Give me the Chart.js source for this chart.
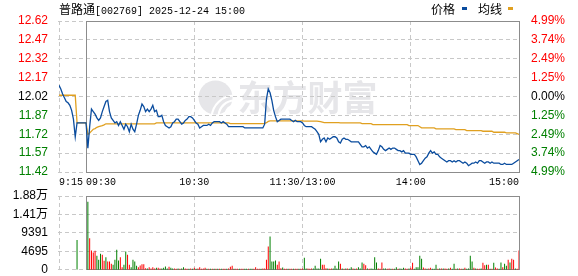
<!DOCTYPE html>
<html><head><meta charset="utf-8">
<script src="https://cdn.jsdelivr.net/npm/chart.js@4.4.1/dist/chart.umd.min.js"></script>
<style>
html,body{margin:0;padding:0;background:#fff;width:578px;height:276px;overflow:hidden;}
#wrap{position:relative;width:578px;height:276px;}
canvas{position:absolute;left:0;}
#c1{top:0;}
#c2{top:180px;}
.t{position:absolute;white-space:pre;color:#000;font-size:12px;line-height:16px;}
.cjk{font-family:"Noto Sans CJK SC";font-size:12px;}
.mono{font-family:"Liberation Mono";font-size:10px;}
.sw{position:absolute;width:5px;height:3px;}
</style></head>
<body><div id="wrap">
<canvas id="c1" width="578" height="190"></canvas>
<canvas id="c2" width="578" height="100"></canvas>
<div class="t" style="left:59px;top:1px;"><span class="cjk">普路通</span><span class="mono">[002769] 2025-12-24 15:00</span></div>
<div class="t cjk" style="left:431px;top:1px;">价格</div>
<div class="sw" style="left:462px;top:7px;background:#0a4c9e"></div>
<div class="t cjk" style="left:478px;top:1px;">均线</div>
<div class="sw" style="left:508px;top:7px;background:#e0a020"></div>
</div>
<script>
// ---------- DATA ----------
const prevClose = 12.02;
const preTimes = ['09:15','09:16','09:17','09:18','09:19','09:20','09:21','09:22','09:23','09:24','09:25'];
const prePrice = [12.11,12.08,12.04,12.01,11.98,11.97,11.95,11.91,11.84,11.70,11.81];
const preAvg   = [12.03,12.03,12.03,12.03,12.03,12.03,12.03,12.03,12.03,12.03,11.81];
const preVolTimes = ['09:25'];
const preVolume = [7610];
const preVolDir = 'g';

// 09:30 .. 15:00, one value per minute (241)
const price = [
11.81,11.61,11.78,11.92,11.90,11.88,11.85,11.83,11.85,11.90,
11.94,11.98,11.99,11.90,11.85,11.83,11.81,11.82,11.79,11.82,
11.79,11.76,11.80,11.78,11.74,11.80,11.76,11.74,11.80,11.87,
11.91,11.96,11.94,11.90,11.92,11.90,11.92,11.95,11.90,11.91,
11.86,11.86,11.87,11.82,11.79,11.78,11.77,11.78,11.81,11.82,
11.84,11.84,11.82,11.80,11.81,11.83,11.84,11.86,11.86,11.85,
11.83,11.81,11.80,11.77,11.78,11.79,11.79,11.79,11.80,11.79,
11.81,11.82,11.82,11.82,11.82,11.81,11.82,11.81,11.80,11.78,
11.78,11.78,11.78,11.78,11.78,11.78,11.78,11.78,11.77,11.77,
11.77,11.77,11.77,11.77,11.77,11.77,11.77,11.77,11.77,11.80,
12.00,12.08,12.05,11.99,11.91,11.86,11.82,11.83,11.84,11.84,
11.84,11.84,11.84,11.84,11.83,11.82,11.83,11.82,11.82,11.82,
11.81,11.79,11.78,11.78,11.78,11.78,11.77,11.76,11.74,11.72,
11.66,11.68,11.69,11.66,11.69,11.68,11.69,11.70,11.70,11.69,
11.66,11.65,11.68,11.69,11.68,11.68,11.67,11.66,11.66,11.66,
11.66,11.66,11.64,11.62,11.62,11.63,11.61,11.62,11.60,11.58,
11.57,11.56,11.59,11.63,11.62,11.60,11.59,11.60,11.61,11.60,
11.61,11.61,11.60,11.59,11.59,11.58,11.59,11.57,11.57,11.57,
11.56,11.56,11.56,11.54,11.51,11.48,11.49,11.51,11.53,11.54,
11.57,11.59,11.57,11.58,11.56,11.56,11.54,11.53,11.52,11.51,
11.50,11.51,11.51,11.50,11.51,11.50,11.51,11.51,11.50,11.49,
11.50,11.49,11.47,11.48,11.49,11.49,11.50,11.49,11.51,11.51,
11.50,11.49,11.50,11.50,11.49,11.50,11.49,11.49,11.49,11.49,
11.48,11.48,11.49,11.48,11.48,11.48,11.48,11.49,11.50,11.51,
11.52];

const avgPrice = [
11.810,11.720,11.730,11.745,11.760,11.765,11.775,11.780,11.785,11.789,
11.795,11.803,11.803,11.803,11.803,11.803,11.803,11.803,11.803,11.803,
11.803,11.803,11.803,11.803,11.803,11.803,11.803,11.803,11.803,11.803,
11.803,11.803,11.803,11.803,11.803,11.803,11.803,11.803,11.803,11.810,
11.810,11.810,11.810,11.810,11.810,11.810,11.810,11.810,11.810,11.810,
11.810,11.810,11.810,11.810,11.810,11.810,11.810,11.810,11.810,11.810,
11.810,11.810,11.810,11.810,11.810,11.810,11.810,11.810,11.810,11.810,
11.810,11.810,11.810,11.810,11.810,11.810,11.810,11.810,11.810,11.810,
11.805,11.805,11.805,11.805,11.805,11.805,11.805,11.805,11.805,11.805,
11.805,11.805,11.805,11.805,11.805,11.805,11.805,11.805,11.805,11.806,
11.812,11.822,11.826,11.826,11.826,11.826,11.826,11.826,11.826,11.826,
11.826,11.826,11.826,11.826,11.826,11.826,11.826,11.826,11.826,11.826,
11.826,11.825,11.825,11.825,11.825,11.825,11.825,11.825,11.825,11.823,
11.820,11.816,11.812,11.812,11.812,11.812,11.812,11.812,11.812,11.812,
11.812,11.810,11.810,11.810,11.810,11.810,11.810,11.810,11.810,11.810,
11.810,11.810,11.810,11.804,11.804,11.804,11.804,11.804,11.804,11.797,
11.797,11.797,11.797,11.797,11.797,11.797,11.797,11.797,11.797,11.797,
11.797,11.797,11.797,11.797,11.797,11.797,11.797,11.797,11.797,11.789,
11.789,11.789,11.789,11.789,11.789,11.780,11.771,11.771,11.771,11.771,
11.771,11.771,11.771,11.771,11.763,11.763,11.763,11.763,11.763,11.763,
11.763,11.763,11.763,11.763,11.763,11.757,11.757,11.757,11.757,11.757,
11.757,11.749,11.749,11.749,11.749,11.749,11.749,11.749,11.749,11.749,
11.744,11.744,11.744,11.744,11.744,11.744,11.736,11.736,11.736,11.736,
11.736,11.736,11.736,11.731,11.731,11.731,11.731,11.731,11.731,11.725,
11.718];

// 09:31 .. 15:00 volume (240) and bar colour: r = up, g = down
const volume = [
17340,8040,4910,4400,4820,3550,2540,4060,3810,2280,
3220,2120,2120,1520,1270,2540,5080,2370,3220,680,
1270,4650,3810,1270,680,2540,2120,1020,680,1100,
1440,1440,420,340,680,340,680,340,510,510,
340,340,510,850,340,760,510,340,340,250,
340,250,340,680,340,250,250,340,250,510,
250,340,680,250,340,510,250,250,250,250,
250,250,250,250,250,250,250,250,340,760,
1020,250,250,250,250,250,250,250,250,250,
250,250,250,680,250,250,250,340,340,2540,
5920,8460,2120,2120,2370,1270,2120,420,590,250,
250,250,250,250,250,250,250,250,250,340,
3050,340,340,250,340,340,1020,340,340,2790,
1270,1270,420,340,250,340,340,1020,340,2120,
1520,340,250,340,340,250,680,340,250,340,
680,340,1860,1520,1180,340,250,340,250,3220,
1860,340,250,1860,340,340,250,340,250,250,
250,680,250,340,250,510,340,250,340,510,
1780,250,680,680,3550,2790,590,340,250,340,
510,250,250,1270,250,340,340,340,340,250,
340,510,250,1520,250,340,340,250,250,510,
250,340,3550,2120,510,340,250,250,340,1780,
1180,1270,1270,250,250,1780,590,340,250,1860,
680,1520,1020,2540,1860,2790,2540,340,250,4910];
const volDir =
'grrrrgggrr'+'grrrggggrr'+'ggrrggggrr'+'rrrgrrrrgr'+'rggggrggrr'+'grggrrgrgr'+
'grrrrrgrgr'+'grgrgrrgrr'+'rgrrgrrggr'+'ggrrrrgrrr'+'rggggrrrgr'+'rgrrgrrgrr'+
'ggrrrggggg'+'rrrgrrgggg'+'rgrgrggrgr'+'gggrrgrggg'+'grrrggrrgr'+'ggrgggrrgr'+
'rgggggrrgr'+'rgggrgrgrr'+'grggrgrrgr'+'ggggrgrrgr'+'rgrgrgrrgg'+'rggrgrrgrr';

const xTickTimes  = ['09:15','09:30','10:30','11:30','14:00','15:00'];
const xTickLabels = ['9:15','     09:30','10:30','11:30/13:00','14:00','15:00'];
const priceTickLabels = ['11.42','11.57','11.72','11.87','12.02','12.17','12.32','12.47','12.62'];
const pctTickLabels   = ['4.99%','3.74%','2.49%','1.25%','0.00%','1.25%','2.49%','3.74%','4.99%'];
const volTickValues = [0,4695,9391,14086,18782];
const volTickLabels = ['0','4695','9391','1.41万','1.88万'];

// ---------- STYLE ----------
const RED='#ff0000', GREEN='#008000', BLACK='#000000';
const BLUE='#0a4c9e', ORANGE='#e0a020', GRID='#c8c8c8', FRAME='#8c8c8c', WM='#e6e6e9';
const numFont = {family:'"Liberation Sans", "Noto Sans CJK SC", sans-serif', size:12};
const timeFont = {family:'"Liberation Mono", monospace', size:10};

function toMinute(t){const [h,m]=t.split(':').map(Number);const v=h*60+m;return v<=690?v-570:v-660;}
const priceTicks = priceTickLabels.map(Number);
const xTicks = xTickTimes.map(toMinute);
const X_MIN = toMinute('09:15'), X_MAX = toMinute('15:00');
const tickColor = i => i < 4 ? GREEN : (i === 4 ? BLACK : RED);

const priceData = prePrice.map((p,i)=>({x:toMinute(preTimes[i]),y:p})).concat(price.map((p,i)=>({x:i,y:p})));
const avgData = preAvg.map((p,i)=>({x:toMinute(preTimes[i]),y:p})).concat(avgPrice.map((p,i)=>({x:i,y:p})));
const volData = preVolume.map((v,i)=>({x:toMinute(preVolTimes[i]),y:v})).concat(volume.map((v,j)=>({x:j+1,y:v})));
const volCols = (preVolDir+volDir).split('').map(c=>c==='r'?RED:GREEN);

const align = p => Math.round(p-0.5)+0.5;
const dashGrid = {
  id:'dashGrid',
  beforeDatasetsDraw(chart){
    const {ctx,chartArea:a,scales} = chart;
    ctx.save(); ctx.strokeStyle = GRID; ctx.lineWidth = 1; ctx.setLineDash([4,3]);
    const ys = scales.y, xs = scales.x;
    ys.ticks.forEach(t=>{const p=align(ys.getPixelForValue(t.value)); ctx.beginPath(); ctx.moveTo(a.left-1,p); ctx.lineTo(a.right,p); ctx.stroke();});
    xs.ticks.forEach(t=>{const p=align(xs.getPixelForValue(t.value)); ctx.beginPath(); ctx.moveTo(p,a.top); ctx.lineTo(p,a.bottom); ctx.stroke();});
    ctx.restore();
  }
};
const framePlugin = {
  id:'frame',
  beforeDatasetsDraw(chart){
    const {ctx,chartArea:a,scales:{x}} = chart;
    const l = align(x.getPixelForValue(0)), r = align(x.getPixelForValue(X_MAX));
    const t = align(a.top), b = align(a.bottom);
    ctx.save(); ctx.strokeStyle = FRAME; ctx.lineWidth = 1; ctx.setLineDash([]);
    ctx.strokeRect(l,t,r-l,b-t); ctx.restore();
  }
};
const watermark = {
  id:'wm',
  beforeDatasetsDraw(chart){
    const {ctx,scales:{x,y}} = chart;
    const cx = (x.getPixelForValue(0)+x.getPixelForValue(X_MAX))/2;
    const cy = y.getPixelForValue(prevClose);
    ctx.save();
    ctx.fillStyle = WM;
    ctx.font = 'bold 35px "Noto Sans CJK SC"';
    ctx.textAlign = 'left'; ctx.textBaseline = 'middle';
    ctx.fillText('东方财富', cx-65, cy+1);
    const lx = cx-87, ly = cy+1, R = 17;
    ctx.beginPath(); ctx.arc(lx, ly, R, 0, Math.PI*2); ctx.fill();
    ctx.strokeStyle = '#ffffff'; ctx.lineWidth = 2.2;
    for (let k=0;k<3;k++){
      ctx.beginPath();
      ctx.arc(lx+R+2, ly+R+4-k*2, R+6-k*7, Math.PI*1.02, Math.PI*1.5);
      ctx.stroke();
    }
    ctx.restore();
  }
};

const xScaleBase = {
  type:'linear', min:X_MIN, max:X_MAX, offset:false,
  afterBuildTicks: s => { s.ticks = xTicks.map(v=>({value:v})); },
  grid:{display:true, drawOnChartArea:false, drawTicks:false, color:'rgba(0,0,0,0)', offset:false},
  border:{display:false}
};

new Chart(document.getElementById('c1'), {
  type:'line',
  data:{datasets:[
    {label:'价格', data:priceData, borderColor:BLUE, borderWidth:1.3, pointRadius:0, tension:0, order:0},
    {label:'均线', data:avgData, borderColor:ORANGE, borderWidth:1.3, pointRadius:0, tension:0, order:1}
  ]},
  options:{
    responsive:false, animation:false, events:[],
    layout:{padding:{top:21,bottom:0,left:0,right:0}},
    plugins:{legend:{display:false}, tooltip:{enabled:false}},
    scales:{
      x:Object.assign({}, xScaleBase, {
        afterFit: s => { s.height = 18; },
        ticks:{autoSkip:false, maxRotation:0, minRotation:0, align:'inner', padding:4,
               font:timeFont, color:BLACK, callback:(v,i)=>xTickLabels[i]}
      }),
      y:{position:'left', min:priceTicks[0], max:priceTicks[priceTicks.length-1],
        afterBuildTicks: s => { s.ticks = priceTicks.map(v=>({value:v})); },
        afterFit: s => { s.width = 59; },
        ticks:{padding:3, font:numFont, color:c=>tickColor(c.index), callback:(v,i)=>priceTickLabels[i]},
        grid:{display:false}, border:{display:false}},
      yr:{position:'right', min:priceTicks[0], max:priceTicks[priceTicks.length-1],
        afterBuildTicks: s => { s.ticks = priceTicks.map(v=>({value:v})); },
        afterFit: s => { s.width = 59; },
        ticks:{padding:4, font:numFont, color:c=>tickColor(c.index), callback:(v,i)=>pctTickLabels[i]},
        grid:{display:false}, border:{display:false}}
    }
  },
  plugins:[watermark, dashGrid, framePlugin]
});

new Chart(document.getElementById('c2'), {
  type:'bar',
  data:{datasets:[{label:'成交量', data:volData, backgroundColor:volCols, borderWidth:0, barThickness:1, inflateAmount:0, grouped:false}]},
  options:{
    responsive:false, animation:false, events:[],
    layout:{padding:{top:16,bottom:0,left:0,right:59}},
    plugins:{legend:{display:false}, tooltip:{enabled:false}},
    scales:{
      x:Object.assign({}, xScaleBase, {
        afterFit: s => { s.height = 10; },
        ticks:{display:false}
      }),
      y:{position:'left', min:0, max:volTickValues[volTickValues.length-1],
        afterBuildTicks: s => { s.ticks = volTickValues.map(v=>({value:v})); },
        afterFit: s => { s.width = 59; },
        ticks:{padding:3, font:numFont, color:BLACK, callback:(v,i)=>volTickLabels[i]},
        grid:{display:false}, border:{display:false}}
    }
  },
  plugins:[dashGrid, framePlugin]
});
</script>
</body></html>
